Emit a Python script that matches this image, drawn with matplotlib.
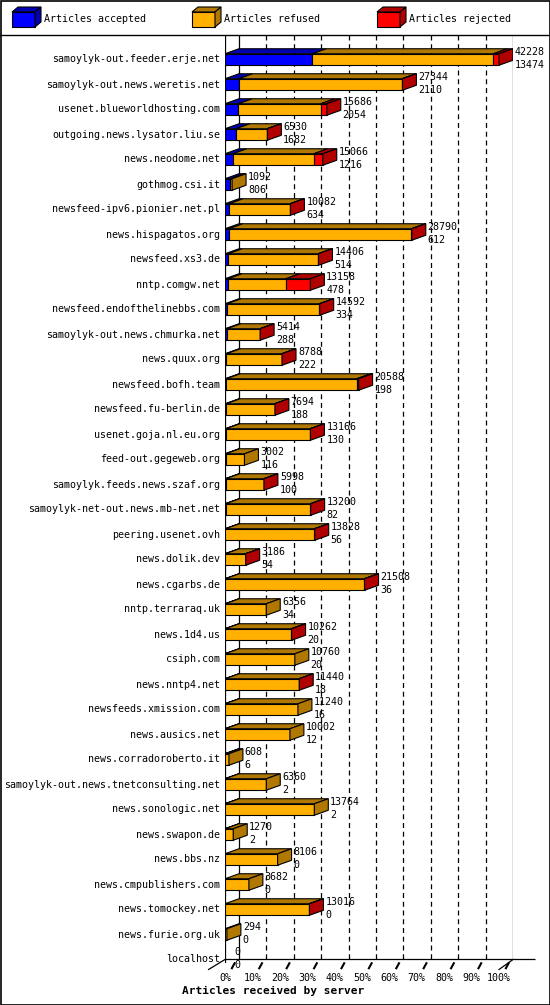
import matplotlib

matplotlib.use("Agg")

import matplotlib.pyplot as plt  # noqa: E402
from matplotlib.patches import Polygon, Rectangle  # noqa: E402
from matplotlib.lines import Line2D  # noqa: E402

servers = [
    "samoylyk-out.feeder.erje.net", "samoylyk-out.news.weretis.net",
    "usenet.blueworldhosting.com", "outgoing.news.lysator.liu.se",
    "news.neodome.net", "gothmog.csi.it", "newsfeed-ipv6.pionier.net.pl",
    "news.hispagatos.org", "newsfeed.xs3.de", "nntp.comgw.net",
    "newsfeed.endofthelinebbs.com", "samoylyk-out.news.chmurka.net",
    "news.quux.org", "newsfeed.bofh.team", "newsfeed.fu-berlin.de",
    "usenet.goja.nl.eu.org", "feed-out.gegeweb.org",
    "samoylyk.feeds.news.szaf.org", "samoylyk-net-out.news.mb-net.net",
    "peering.usenet.ovh", "news.dolik.dev", "news.cgarbs.de",
    "nntp.terraraq.uk", "news.1d4.us", "csiph.com", "news.nntp4.net",
    "newsfeeds.xmission.com", "news.ausics.net", "news.corradoroberto.it",
    "samoylyk-out.news.tnetconsulting.net", "news.sonologic.net",
    "news.swapon.de", "news.bbs.nz", "news.cmpublishers.com",
    "news.tomockey.net", "news.furie.org.uk", "localhost",
]
offered = [42228, 27344, 15686, 6530, 15066, 1092, 10082, 28790, 14406, 13158,
           14592, 5414, 8788, 20588, 7694, 13166, 3002, 5998, 13200, 13828,
           3186, 21508, 6356, 10262, 10760, 11440, 11240, 10002, 608, 6360,
           13764, 1270, 8106, 3682, 13016, 294, 0]
accepted = [13474, 2110, 2054, 1682, 1216, 806, 634, 612, 514, 478, 334, 288,
            222, 198, 188, 130, 116, 100, 82, 56, 54, 36, 34, 20, 20, 18, 16,
            12, 6, 2, 2, 2, 0, 0, 0, 0, 0]
# rejected counts estimated from the red segments
rejected = [880, 60, 920, 40, 1390, 0, 40, 60, 40, 3800, 40, 30, 30, 300, 30,
            40, 0, 30, 40, 40, 20, 40, 0, 20, 0, 30, 0, 0, 0, 0, 0, 0, 0, 0,
            40, 0, 0]
pct_ticks = [0, 10, 20, 30, 40, 50, 60, 70, 80, 90, 100]

FRONT = {"acc": "#0000ff", "ref": "#ffb000", "rej": "#ff0000"}
DARK = {"acc": "#0000b0", "ref": "#b07800", "rej": "#b00000"}
DX, DY, H = 5.1, 0.2, 0.46
W, HGT = 550, 1005
font = "DejaVu Sans Mono"
FS = 7.2

fig = plt.figure(figsize=(5.5, 10.05), dpi=100)
ax = fig.add_axes([225 / W, 1 - 963 / HGT, 288 / W, 928 / HGT])
ax.set_xlim(0, 105.1)
ax.set_ylim(36.14, -0.98)
ax.axis("off")


def box(x0, x1, y, key, side):
    yb, yt = y + H / 2, y - H / 2
    ax.add_patch(Polygon([(x0, yt), (x0 + DX, yt - DY), (x1 + DX, yt - DY), (x1, yt)],
                         closed=True, fc=DARK[key], ec="black", lw=0.8, zorder=3))
    ax.add_patch(Rectangle((x0, yt), x1 - x0, H, fc=FRONT[key], ec="black",
                           lw=0.8, zorder=3))
    if side:
        ax.add_patch(Polygon([(x1, yt), (x1 + DX, yt - DY), (x1 + DX, yb - DY), (x1, yb)],
                             closed=True, fc=DARK[key], ec="black", lw=0.8, zorder=3))


# grid on back plane
for p in pct_ticks[1:-1]:
    ax.plot([p + DX, p + DX], [-0.98, 36.0], ls=(0, (4, 3)), color="black",
            lw=0.9, zorder=1)
ax.plot([DX, DX], [-0.98, 36.0], color="black", lw=0.9, zorder=1)
ax.plot([0, 0], [-0.98, 36.4], color="black", lw=0.9, zorder=1)
ax.plot([100 + DX, 100 + DX], [-0.98, 36.0], color="black", lw=0.9, zorder=1)

mx = max(offered)
for i, name in enumerate(servers):
    ax.text(-1.8, i, name, ha="right", va="center", fontsize=FS, family=font)
    tot = offered[i]
    if tot > 0:
        a = accepted[i] / mx * 100
        r = rejected[i] / mx * 100
        f = (tot - accepted[i] - rejected[i]) / mx * 100
        segs = [(k, v) for k, v in (("acc", a), ("ref", f), ("rej", r)) if v > 0]
        x = 0
        for j, (k, v) in enumerate(segs):
            box(x, x + v, i, k, j == len(segs) - 1)
            x += v
        end = tot / mx * 100 + DX + 0.7
    else:
        end = DX - 1.5
    ax.text(end, i - 0.3, str(tot), ha="left", va="center", fontsize=FS,
            family=font, zorder=4)
    ax.text(end, i + 0.22, str(accepted[i]), ha="left", va="center",
            fontsize=FS, family=font, zorder=4)

# floor and ticks
ax.plot([-6, 0, 100 + DX + 8], [36.4, 36.0, 36.0], color="black", lw=0.9,
        clip_on=False)
ax.plot([100, 100 + DX], [36.4, 36.0], color="black", lw=0.9, clip_on=False)
for p in pct_ticks:
    ax.plot([p + 2.5, p + 3.5], [36.35, 36.15], color="black", lw=1.5,
            clip_on=False)
    ax.text(p, 36.75, f"{p}%", ha="center", va="center", fontsize=FS,
            family=font, clip_on=False)
fig.text(273 / W, 1 - 991 / HGT, "Articles received by server", ha="center",
         va="center", fontsize=8, family=font, weight="bold")

# legend and frame
deco = fig.add_axes([0, 0, 1, 1])
deco.set_xlim(0, W)
deco.set_ylim(HGT, 0)
deco.axis("off")
deco.set_zorder(-1)
for lx, key, lab in ((12, "acc", "Articles accepted"),
                     (192, "ref", "Articles refused"),
                     (377, "rej", "Articles rejected")):
    deco.add_patch(Polygon([(lx, 12), (lx + 6, 7), (lx + 29, 7), (lx + 23, 12)],
                           fc=DARK[key], ec="black", lw=0.8))
    deco.add_patch(Rectangle((lx, 12), 23, 15, fc=FRONT[key], ec="black", lw=0.8))
    deco.add_patch(Polygon([(lx + 23, 12), (lx + 29, 7), (lx + 29, 22), (lx + 23, 27)],
                           fc=DARK[key], ec="black", lw=0.8))
    deco.text(lx + 32, 19, lab, ha="left", va="center", fontsize=FS, family=font)
deco.add_line(Line2D([0, W], [35, 35], color="black", lw=1))
deco.add_patch(Rectangle((0.5, 0.5), W - 1, HGT - 1, fc="none", ec="black", lw=1.2))

fig.savefig("out.png", dpi=100)
